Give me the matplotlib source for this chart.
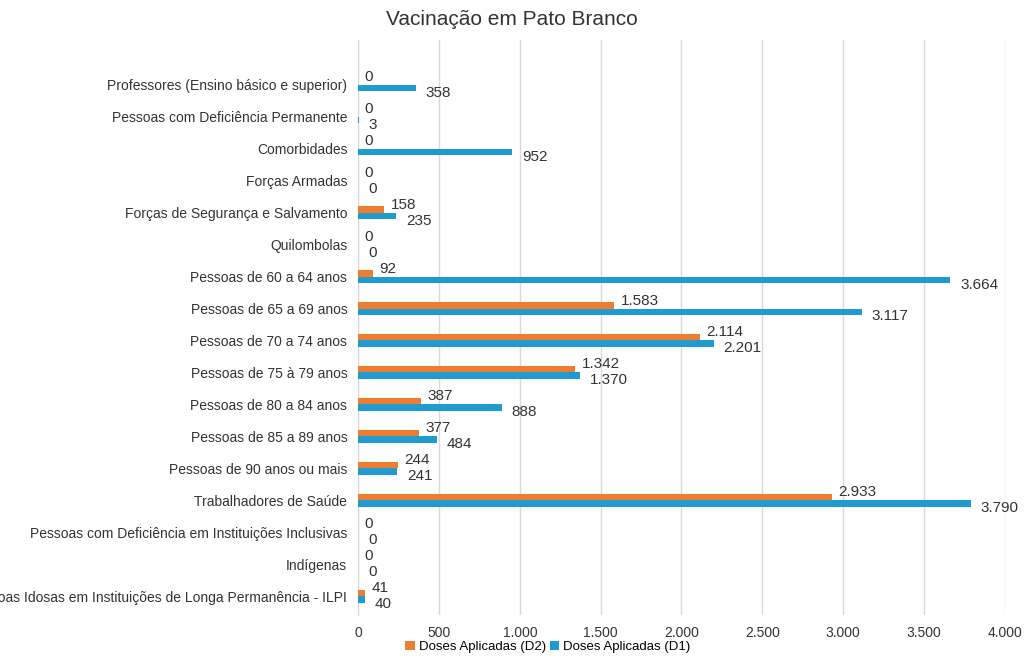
import matplotlib
matplotlib.use('Agg')
import matplotlib.pyplot as plt
import numpy as np

plt.rcParams['font.family'] = ['Liberation Sans', 'DejaVu Sans']

categories = ['Professores (Ensino básico e superior)', 'Pessoas com Deficiência Permanente',
              'Comorbidades', 'Forças Armadas', 'Forças de Segurança e Salvamento', 'Quilombolas',
              'Pessoas de 60 a 64 anos', 'Pessoas de 65 a 69 anos', 'Pessoas de 70 a 74 anos',
              'Pessoas de 75 à 79 anos', 'Pessoas de 80 a 84 anos', 'Pessoas de 85 a 89 anos',
              'Pessoas de 90 anos ou mais', 'Trabalhadores de Saúde',
              'Pessoas com Deficiência em Instituições Inclusivas', 'Indígenas',
              'Pessoas Idosas em Instituições de Longa Permanência - ILPI']
d2 = [0, 0, 0, 0, 158, 0, 92, 1583, 2114, 1342, 387, 377, 244, 2933, 0, 0, 41]
d1 = [358, 3, 952, 0, 235, 0, 3664, 3117, 2201, 1370, 888, 484, 241, 3790, 0, 0, 40]

orange = '#ED7D31'
blue = '#1F9BD1'

def fmt(v):
    return f'{v:,}'.replace(',', '.')

fig = plt.figure(figsize=(10.24, 6.62), dpi=100)
ax = fig.add_axes([0.35, 0.071, 0.631, 0.869])
y = np.arange(len(categories))
h = 0.2
ax.barh(y - h / 2, d2, height=h, color=orange, label='Doses Aplicadas (D2)', zorder=3)
ax.barh(y + h / 2, d1, height=h, color=blue, label='Doses Aplicadas (D1)', zorder=3)
for i in range(len(categories)):
    ax.text(d2[i] + 40, y[i] - 0.25, fmt(d2[i]), fontsize=11, color='#333333', va='center')
    ax.text(d1[i] + 60, y[i] + 0.25, fmt(d1[i]), fontsize=11, color='#333333', va='center')

ax.set_yticks(y)
ax.set_yticklabels(categories, fontsize=10, color='#333333')
ax.set_ylim(16.59, -1.41)
ax.set_xlim(0, 4000)
ax.set_xticks(range(0, 4001, 500))
ax.set_xticklabels([fmt(v) for v in range(0, 4001, 500)], fontsize=10, color='#333333')
ax.grid(axis='x', color='#D9D9D9', linewidth=1, zorder=0)
for s in ['top', 'right', 'bottom']:
    ax.spines[s].set_visible(False)
ax.spines['left'].set_color('#D9D9D9')
ax.tick_params(length=0, pad=8)
fig.suptitle('Vacinação em Pato Branco', fontsize=15, color='#333333', x=0.5, y=0.985)
fig.legend(loc='lower center', bbox_to_anchor=(0.535, -0.005), ncol=2, frameon=False,
           fontsize=9.5, handlelength=0.7, handleheight=0.7, columnspacing=0.3, handletextpad=0.3)
fig.savefig('out.png')
